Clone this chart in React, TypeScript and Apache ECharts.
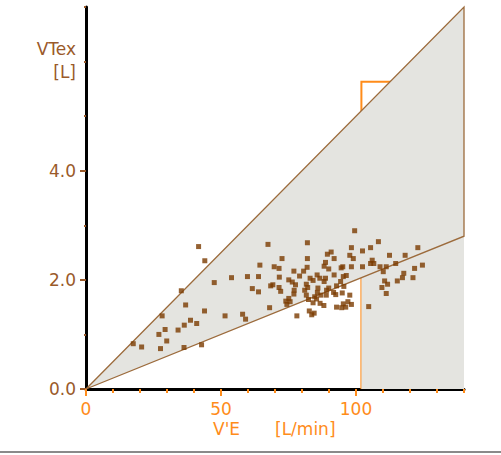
import React, { useEffect, useRef } from "react";
import * as echarts from "echarts";

// V'E [L/min] of each measured breath
const ventilation = [
  17.5, 20.6, 27.6, 27.0, 28.2, 29.3, 29.9, 34.1, 36.4, 38.7, 41.0, 36.3, 42.8, 35.3, 36.9, 41.7, 44.0, 43.9,
  47.5, 51.5, 53.9, 58.0, 59.1, 59.8, 61.6, 63.9, 63.9, 64.4, 67.4, 68.0, 69.2, 68.4, 69.7, 71.5, 71.6, 71.5,
  72.1, 72.6, 75.1, 76.4, 77.6, 77.0, 80.6, 81.9, 82.0, 82.0, 79.1, 83.0, 85.6, 86.6, 88.7, 91.9, 88.2, 89.9,
  88.7, 90.8, 91.9, 94.5, 81.6, 84.1, 88.2, 94.3, 82.1, 85.9, 89.9, 92.8, 77.1, 81.0, 89.1, 85.7, 77.0, 81.6,
  87.0, 89.0, 91.7, 92.5, 75.1, 74.0, 75.6, 82.4, 84.7, 74.4, 85.4, 84.1, 86.7, 88.1, 92.8, 95.3, 82.7, 84.5,
  78.1, 83.6, 97.0, 97.7, 94.9, 96.2, 98.3, 94.7, 97.7, 99.0, 98.3, 99.5, 102.4, 105.4, 108.3, 95.1, 98.3, 102.4,
  95.3, 96.4, 95.5, 106.0, 105.4, 106.6, 108.9, 111.2, 110.1, 112.4, 114.7, 118.2, 122.9, 124.6, 121.7, 117.7,
  117.2, 121.1, 115.3, 110.6, 111.7, 109.6, 111.2, 104.7, 89.4,
];
// VTex [L] of each measured breath
const tidalVolume = [
  0.83, 0.77, 0.74, 1.0, 1.34, 1.09, 0.88, 1.08, 1.17, 1.26, 1.2, 0.76, 0.81, 1.8, 1.54, 2.61, 2.35, 1.43,
  1.95, 1.34, 2.04, 1.37, 1.28, 2.06, 1.84, 2.06, 1.78, 2.27, 2.65, 1.49, 1.91, 1.89, 2.24, 2.21, 2.05, 1.86,
  1.79, 2.39, 2.0, 1.96, 1.91, 2.16, 2.16, 2.23, 2.39, 2.68, 2.07, 2.03, 2.09, 2.03, 2.03, 2.09, 2.25, 2.2,
  2.32, 2.51, 2.39, 2.22, 1.92, 1.99, 1.97, 1.97, 1.86, 1.85, 1.85, 1.89, 1.81, 1.81, 1.81, 1.77, 1.74, 1.72,
  1.72, 1.72, 1.77, 1.73, 1.66, 1.61, 1.6, 1.64, 1.69, 1.55, 1.65, 1.58, 1.57, 1.53, 1.5, 1.56, 1.43, 1.39,
  1.34, 1.36, 1.6, 1.72, 1.76, 1.5, 1.55, 1.49, 2.45, 2.39, 2.59, 2.9, 2.53, 2.59, 2.7, 2.24, 2.24, 2.24,
  2.06, 2.08, 1.88, 2.36, 2.3, 2.3, 2.24, 2.24, 2.15, 2.45, 2.3, 2.45, 2.59, 2.27, 2.21, 2.12,
  2.04, 2.04, 1.98, 1.98, 1.92, 1.86, 1.75, 1.51, 2.47,
];

// reference band: VT = VE/20 (upper) and VT = VE/50 (lower)
const upperBound = [[0, 0], [140, 7]];
const lowerBound = [[0, 0], [140, 2.8]];
// predicted limits box: VE max and VT max
const veLimit = 102;
const vtLimit = 5.63;

const xTicksMinor = [0, 10, 20, 30, 40, 50, 60, 70, 80, 90, 100, 110, 120, 130, 140];
const xTickLabels = [0, 50, 100];
const yTickLabels = [0, 2, 4];

const BROWN = "#9a5a2a";
const ORANGE = "#ff8c1a";
const LINE = "#9c6b3c";
const FILL = "#e4e4e0";
const DOT = "#7a3b00";
const FONT = "DejaVu Sans";

export default function App() {
  const ref = useRef<HTMLDivElement>(null);
  useEffect(() => {
    if (!ref.current) return;
    const chart = echarts.init(ref.current, undefined, { renderer: "svg" });
    const points = ventilation.map((v, i) => [v, tidalVolume[i]]);
    const xMax = upperBound[1][0];
    const lowerAt = (x: number) => lowerBound[0][1] + ((lowerBound[1][1] - lowerBound[0][1]) * (x - lowerBound[0][0])) / (lowerBound[1][0] - lowerBound[0][0]);

    chart.setOption({
      animation: false,
      grid: { left: 86, right: 37, top: 7, bottom: 66, containLabel: false },
      xAxis: [
        {
          type: "value", min: 0, max: 140, interval: 10,
          axisLine: { show: true, onZero: false, lineStyle: { color: "#000", width: 3 } },
          axisTick: { show: true, length: 4, customValues: xTicksMinor, lineStyle: { color: ORANGE, width: 2 } },
          axisLabel: { show: false },
          splitLine: { show: false },
        },
        {
          type: "value", min: 0, max: 140, position: "bottom",
          axisLine: { show: false, onZero: false },
          axisTick: { show: true, length: 7, customValues: xTickLabels, lineStyle: { color: ORANGE, width: 2 } },
          axisLabel: { show: true, customValues: xTickLabels, color: ORANGE, fontSize: 17, fontFamily: FONT, margin: 11 },
          splitLine: { show: false },
        },
      ],
      yAxis: [
        {
          type: "value", min: 0, max: 7, interval: 1,
          axisLine: { show: true, onZero: false, lineStyle: { color: "#000", width: 3 } },
          axisTick: { show: true, length: 2, lineStyle: { color: BROWN, width: 2 } },
          axisLabel: { show: false },
          splitLine: { show: false },
        },
        {
          type: "value", min: 0, max: 7, position: "left",
          axisLine: { show: false, onZero: false },
          axisTick: { show: true, length: 6, customValues: yTickLabels, lineStyle: { color: BROWN, width: 2 } },
          axisLabel: {
            show: true, customValues: yTickLabels, color: BROWN, fontSize: 17, fontFamily: FONT, margin: 10,
            formatter: (v: number) => v.toFixed(1),
          },
          splitLine: { show: false },
        },
      ],
      graphic: [
        { type: "text", right: 501 - 76, top: 40, style: { text: "VTex", fill: BROWN, font: `17px ${FONT}`, textAlign: "right" } },
        { type: "text", right: 501 - 76, top: 63, style: { text: "[L]", fill: BROWN, font: `17px ${FONT}`, textAlign: "right" } },
        { type: "text", left: 213, top: 420, style: { text: "V'E", fill: ORANGE, font: `17px ${FONT}` } },
        { type: "text", left: 275, top: 420, style: { text: "[L/min]", fill: ORANGE, font: `17px ${FONT}` } },
        { type: "line", shape: { x1: 0, y1: 452, x2: 501, y2: 452 }, style: { stroke: "#8a8a8a", lineWidth: 2 } },
      ],
      series: [
        {
          type: "custom",
          coordinateSystem: "cartesian2d",
          xAxisIndex: 0,
          yAxisIndex: 0,
          silent: true,
          z: 1,
          data: [[0, 0]],
          renderItem: (_params: any, api: any) => {
            const c = (p: number[]) => api.coord(p);
            const lowAtLimit = lowerAt(veLimit);
            return {
              type: "group",
              children: [
                {
                  type: "polyline",
                  shape: { points: [c([veLimit, 0]), c([veLimit, vtLimit]), c([xMax, vtLimit])] },
                  style: { stroke: ORANGE, lineWidth: 2, fill: "none" },
                },
                {
                  type: "polygon",
                  shape: {
                    points: [
                      c(upperBound[0]), c(upperBound[1]), c([xMax, 0]), c([veLimit, 0]),
                      c([veLimit, lowAtLimit]), c(lowerBound[0]),
                    ],
                  },
                  style: { fill: FILL, stroke: "none" },
                },
                {
                  type: "polyline",
                  shape: { points: [c(upperBound[0]), c(upperBound[1]), c(lowerBound[1]), c(lowerBound[0])] },
                  style: { stroke: LINE, lineWidth: 1.3, fill: "none" },
                },
              ],
            };
          },
        },
        {
          type: "scatter",
          xAxisIndex: 0,
          yAxisIndex: 0,
          z: 5,
          symbol: "rect",
          symbolSize: 5,
          itemStyle: { color: DOT },
          data: points,
        },
      ],
    });
    return () => chart.dispose();
  }, []);
  return <div ref={ref} style={{ position: "absolute", left: 0, top: 0, width: 501, height: 455 }} />;
}
